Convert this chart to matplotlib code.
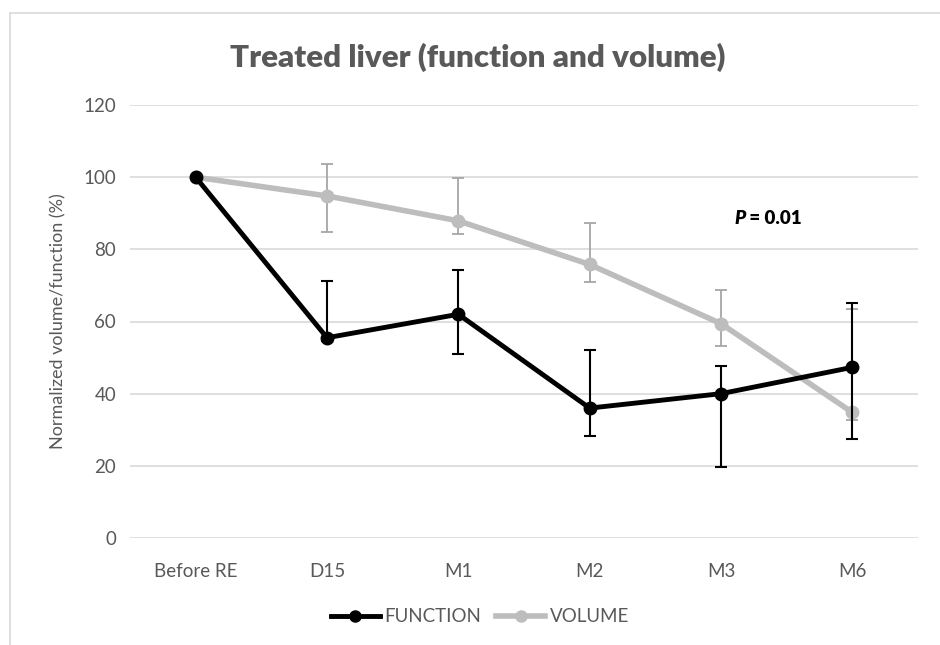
import matplotlib
matplotlib.use("Agg")
import matplotlib.pyplot as plt
from matplotlib.lines import Line2D

categories = ["Before RE", "D15", "M1", "M2", "M3", "M6"]
function_vals = [100, 55.5, 62.0, 36.0, 40.0, 47.3]
function_upper = [100, 71.2, 74.4, 52.0, 47.6, 65.2]
function_lower = [100, 54.5, 51.1, 28.3, 19.8, 27.4]
volume_vals = [100, 94.8, 87.9, 75.8, 59.4, 34.8]
volume_upper = [100, 103.7, 99.8, 87.2, 68.6, 63.5]
volume_lower = [100, 84.9, 84.3, 71.0, 53.3, 32.6]
yticks = [0, 20, 40, 60, 80, 100, 120]

plt.rcParams['font.family'] = ['Lato', 'DejaVu Sans']
TXT = '#595959'
BLACK = '#000000'
GRAY = '#BDBDBD'
GRAY_ERR = '#A6A6A6'

fig = plt.figure(figsize=(9.4, 6.45), dpi=100)
ax = fig.add_axes([130/940, 1-538/645, 788/940, 433/645])

x = list(range(len(categories)))
f_err = [[v - l for v, l in zip(function_vals, function_lower)],
         [u - v for v, u in zip(function_vals, function_upper)]]
v_err = [[v - l for v, l in zip(volume_vals, volume_lower)],
         [u - v for v, u in zip(volume_vals, volume_upper)]]

ax.errorbar(x[1:], volume_vals[1:], yerr=[v_err[0][1:], v_err[1][1:]], fmt='none',
            ecolor=GRAY_ERR, elinewidth=1.3, capsize=4, capthick=1.3, zorder=2)
ax.plot(x, volume_vals, color=GRAY, lw=4, marker='o', ms=9, zorder=3)
ax.errorbar(x[1:], function_vals[1:], yerr=[f_err[0][1:], f_err[1][1:]], fmt='none',
            ecolor=BLACK, elinewidth=1.5, capsize=4, capthick=1.5, zorder=4)
ax.plot(x, function_vals, color=BLACK, lw=3.5, marker='o', ms=9, zorder=5)

ax.set_xlim(-0.5, len(categories) - 0.5)
ax.set_ylim(0, 120)
ax.set_yticks(yticks)
ax.set_xticks(x)
ax.set_xticklabels(categories)
ax.grid(axis='y', color='#D9D9D9', lw=1.2)
ax.set_axisbelow(True)
for s in ax.spines.values():
    s.set_visible(False)
ax.tick_params(axis='both', length=0, labelsize=13.5, colors=TXT)
ax.tick_params(axis='y', pad=10)
ax.tick_params(axis='x', pad=18)
ax.set_ylabel("Normalized volume/function (%)", fontsize=13, color=TXT, labelpad=12)

fig.text(478/940, 1-57/645, "Treated liver (function and volume)", ha='center', va='center',
         fontsize=22.5, fontweight='heavy', color=TXT)

t = ax.text(4.1, 88.6, "P", fontsize=13.5, fontweight='heavy', fontstyle='italic',
            color=BLACK, ha='left', va='center')
ax.annotate(" = 0.01", xy=(1, 0), xycoords=t, va='bottom', ha='left',
            fontsize=13.5, fontweight='heavy', color=BLACK)

handles = [Line2D([], [], color=BLACK, lw=3.5, marker='o', ms=8),
           Line2D([], [], color=GRAY, lw=4, marker='o', ms=8)]
fig.legend(handles, ["FUNCTION", "VOLUME"], loc='center', ncol=2,
           bbox_to_anchor=(480/940, 1-617/645), frameon=False, fontsize=13.5,
           labelcolor=TXT, handlelength=2.6, handletextpad=0.25, columnspacing=0.8)

fig.add_artist(Line2D([10/940, 10/940], [0, 1-13/645], transform=fig.transFigure,
                      color='#D9D9D9', lw=1.2))
fig.add_artist(Line2D([10/940, 1], [1-13/645, 1-13/645], transform=fig.transFigure,
                      color='#D9D9D9', lw=1.2))

fig.savefig("out.png", dpi=100)
